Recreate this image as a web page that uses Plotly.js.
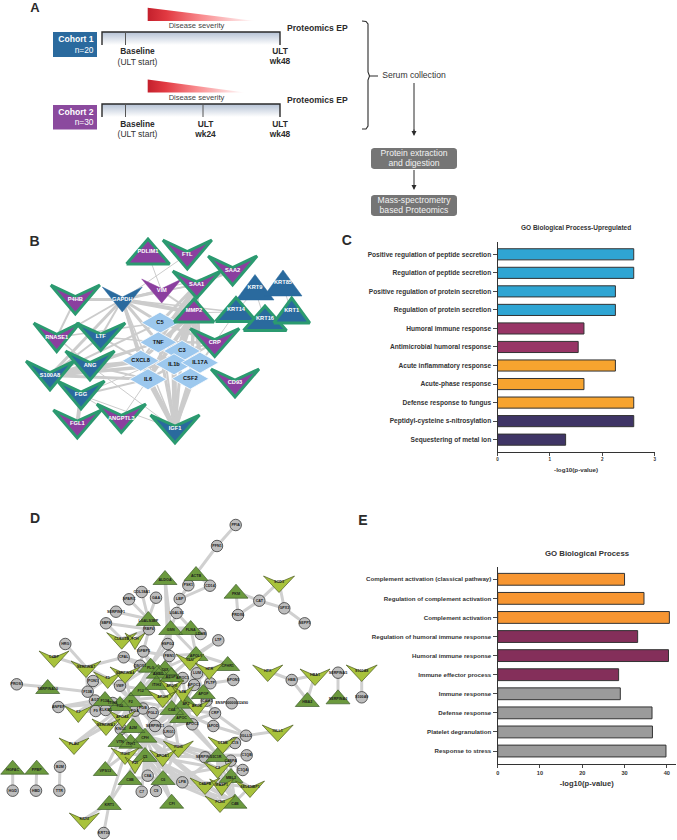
<!DOCTYPE html>
<html><head><meta charset="utf-8">
<script src="https://cdn.plot.ly/plotly-3.0.1.min.js"></script>
<style>html,body{margin:0;padding:0;background:#fff}#chart{width:677px;height:840px}</style>
</head><body><div id="chart"></div>
<script>
// ---------- Panel C data ----------
const cCategories = ["Positive regulation of peptide secretion","Regulation of peptide secretion","Positive regulation of protein secretion","Regulation of protein secretion","Humoral immune response","Antimicrobial humoral response","Acute inflammatory response","Acute-phase response","Defense response to fungus","Peptidyl-cysteine s-nitrosylation","Sequestering of metal ion"];
const cValues = [2.6,2.6,2.25,2.25,1.65,1.54,2.25,1.65,2.6,2.6,1.3];
const cColors = ["#2FA5D3","#2FA5D3","#2FA5D3","#2FA5D3","#983566","#983566","#F7A42F","#F7A42F","#F7A42F","#3F3566","#3F3566"];
// ---------- Panel E data ----------
const eCategories = ["Complement activation (classical pathway)","Regulation of complement activation","Complement activation","Regulation of humoral immune response","Humoral immune response","Immune effector process","Immune response","Defense response","Platelet degranulation","Response to stress"];
const eValues = [30,34.6,40.6,33.1,40.4,28.6,29,36.5,36.6,39.8];
const eColors = ["#F79632","#F79632","#F79632","#842F5A","#842F5A","#842F5A","#9B9B9B","#9B9B9B","#9B9B9B","#9B9B9B"];
// ---------- Panel B network: [label, x, top, tip, width, outlined, fill] ----------
const P="#8B3F9F",B="#2A6A9E";
const bVees = [
["VIM",161.7,279,303,40,0,P],["GAPDH",122.3,287,312,40,0,B],
["FTL",187.3,240,269,49,1,P],["SAA2",232.6,256,285,49,1,P],["SAA1",196.7,271,298,48,1,P],
["P4HB",75.3,285,314,49,1,P],["RNASE1",56.7,323,351.5,46,1,P],["LTF",100.7,323,350.5,49,1,B],
["CRP",214.7,328.5,356.5,49,1,P],["S100A8",50,361,390,48,1,B],["ANG",90,351,380,49,1,B],
["FGG",81,381,409,47,1,B],["CD93",235,369,397,48,1,P],["FGL1",77.3,410,438,48,1,P],
["ANGPTL3",121.3,404,432.5,49,1,P],["IGF1",175,415,443,49,1,B]];
const bTris = [
["PDLIM1",148,239,264,43,1,P],["KRT9",255,274.5,300,38,0,B],["KRT85",283,270,296,38,0,B],
["MMP2",194,299,322,40,1,P],["KRT14",236,297.5,321.5,41,1,B],["KRT16",265,306,330.5,43,1,B],["KRT1",291.7,298,323,36,1,B]];
const bDiamonds = [["C5",160,322.7],["TNF",158.3,342.3],["C3",182,351],["CXCL8",140.7,360.7],["IL1b",174,364.3],["IL17A",200,362.7],["IL6",148,379.3],["CSF2",190.3,378.7]];
const bEdges = [
["IL6","IGF1",5],["IL1b","IGF1",5],["CSF2","IGF1",4.5],["TNF","IGF1",3],["IL17A","IGF1",2.5],["C3","IGF1",3],["CXCL8","IGF1",3],["C5","IGF1",2],
["GAPDH","P4HB",3],["GAPDH","MMP2",4],["GAPDH","VIM",3],["GAPDH","TNF",3],["GAPDH","C5",3],["GAPDH","IL6",3],["GAPDH","RNASE1",2],["GAPDH","S100A8",3],["GAPDH","LTF",2],["GAPDH","SAA1",1.5],["GAPDH","KRT14",1.5],["GAPDH","CXCL8",3],["GAPDH","IGF1",1.5],["GAPDH","SAA2",1],
["MMP2","C5",3.5],["MMP2","TNF",3],["MMP2","IL6",4],["MMP2","CXCL8",3],["MMP2","IL1b",4],["MMP2","C3",3.5],["MMP2","IL17A",3],["MMP2","CSF2",3],
["SAA1","C5",3],["SAA1","TNF",3],["SAA1","IL6",3],["SAA1","CXCL8",2],["SAA1","IL1b",3],["SAA1","C3",3],["SAA1","IL17A",3],["SAA1","MMP2",3],["SAA1","CSF2",3],
["CRP","C5",2.5],["CRP","TNF",2.5],["CRP","IL6",2.5],["CRP","C3",2],["CRP","CSF2",2],["CRP","KRT14",1],
["S100A8","CXCL8",4],["S100A8","IL1b",3.5],["S100A8","IL6",3],["S100A8","TNF",2.5],["S100A8","C5",2],
["ANG","TNF",1.5],["ANG","IL6",2],["ANG","CXCL8",2],["LTF","TNF",1.5],["LTF","CXCL8",2],["RNASE1","C5",1.5],
["FGG","IL6",2],["FGG","FGL1",4],["FGG","ANGPTL3",1],["FGG","IGF1",1],["ANGPTL3","IL6",1],["FGG","C3",1],
["S100A8","ANG",2],["S100A8","LTF",2],["S100A8","FGG",2],["RNASE1","ANG",1.5],["P4HB","RNASE1",2],["ANG","IGF1",1],
["PDLIM1","VIM",1],["FTL","GAPDH",1],["SAA2","SAA1",3],["SAA1","VIM",1.5],["VIM","MMP2",2],["KRT9","KRT14",1],["KRT85","KRT1",1],["KRT14","KRT16",1],["KRT9","KRT16",1],["KRT16","KRT1",1],["MMP2","KRT14",1]];
// ---------- Panel D network ----------
const dCircles = [["HRG",65.3,644],["COL18A1",141.7,592],["SPARC",129,599.3],["GAA",156,597.7],["SERPINF1",116,611.7],["SBP8",106,623.3],["RBP4",149,629.3],["CFAL",123.7,657.3],["IGFBP5",143.3,651.5],["HSPG2",167.7,644],["FBN1",169.3,656],["QSOX1",140,665.7],["LGALS1",176.7,613],["LBP",179.7,599],["PSK1",188.3,585.3],["CD14",210,585.7],["PFN1",217,546],["PPIA",235.7,525],["PRDX6",238,615],["CAT",259.3,600.7],["GPX3",284.3,608.3],["SEPP1",304.7,623.3],["LDHB",200.7,634],["LTF",218.3,640.3],["LUM",197,673.3],["PLTP",210.3,683.3],["APOC3",194,685],["APOC1",182.7,678],["SPON1",233.3,680],["ICAM1",206.7,700.7],["ENSP00000032490",231.7,703.3],["CRP",215,713.3],["APOD",213.3,726],["APOC2",192.3,724.3],["IGLL5",246,735.7],["C1S",235,743],["C1QB",246.7,755.3],["SERPING1",205,757.3],["C4BPA",230.7,760.7],["C1QA",242.7,770],["LPB",182.3,782.3],["F13B",87.7,691.7],["PON1",93,681],["PROS1",16.7,684.3],["VWF",120,685.7],["ANPEP",58.3,707],["AGT",95,700.5],["ITIH4",112.7,703],["F9",95.7,711],["KLKB1",105.7,710],["FGA",135,710.7],["FGB",143,708.5],["FGL2",152.7,713],["SERPINC1",155,726],["KNG1",120.7,729],["LRG1",169,731.7],["C8A",147.7,775.7],["C7",141.7,791.7],["C9",156,791],["KRT10",103.7,833],["HGD",12.7,790.7],["HBD",36,790.7],["B2M",60,766.7],["TTR",59.3,790.7],["HBB",291.7,680],["SERPINA5",338,672.7],["S100A9",361.7,697.3]];
const dTris = [["ALDOA",165,578],["LGALS3BP",148.3,619],["GSN",170.7,628],["FLNA",190.7,628],["ACTB",196,574],["PKM",236,591.7],["APOL1",196,654],["CFHR1",227.7,664],["APOF",203.3,692],["PLG",150.7,665.7],["C6X",165,668],["AHSG",158.3,671.7],["ITIH2",156.7,683],["F12",140.7,689],["F2",130.7,700],["F13A",105,699],["F10",120,704],["AZGP1",171.7,675],["C4A",171.7,708],["A2M",133,726],["CFH",145,735.7],["VTN",120,740],["ITIH1",130.7,741.7],["C5",145,755],["C8B",130,778],["C6",163,778],["VPS13",105.3,769],["KRT1",109.3,803],["SERPINA10",47.7,687],["HGFAC",12.7,767.7],["PPBP",36.7,767.7],["APOC",181.7,716],["AP2",186,701.7],["C1R",217.7,755],["MBL2",231,776],["C4B",235,801.7],["CFI",171.7,801.7],["HBA2",307.3,700],["SERPINA3",338,697.3]];
const dVees = [["C4BP",54,651,30],["SERPINA7",86,661,30],["CLEC3B",121.7,632.7,30],["FTH",135,633,20],["F5",107.7,672,28],["SERPINA4",125,667,30],["APOH",162.7,691,28],["F7",78.3,706,27],["APOA4",122.3,711,26],["SERPINA1",106,719,28],["PLAU",74,738,30],["ITIH3",125,748,28],["F11",135,757,20],["APOA1",162.7,750,26],["KRT2",84.3,813,30],["HPX",267.7,665,30],["HBA1",315,669,30],["S100A8",361.7,665,31],["SOD3",279,576,31],["CLU",190,654,28],["HPR",209.3,663,28],["LPA",182.7,686,22],["APOM",171.7,680,24],["APOE",197,700,26],["CTSB",222.7,737,29],["ITIH5",178.3,741,30],["C2",217.7,762,28],["C4BPB",205,778,30],["MASP1",221.7,779,24],["SELENBP1",250,781,29],["FCN3",220,796,30],["IGLL1",277.7,725,31]];
const dHubs = [
["PPIA",["PFN1"]],["PFN1",["ACTB"]],["ACTB",["PSK1","CD14","LBP"]],["LBP",["LGALS1","PSK1","CD14"]],["LGALS1",["GSN","FLNA"]],
["PKM",["PRDX6","CAT"]],["CAT",["PRDX6","SOD3","GPX3"]],["SOD3",["GPX3"]],["GPX3",["SEPP1"]],
["ALDOA",["GSN","HSPG2"]],["LGALS3BP",["COL18A1","GAA","SPARC","SERPINF1","RBP4"]],["RBP4",["SBP8","CLEC3B","FTH","IGFBP5"]],["SBP8",["CLEC3B"]],
["GSN",["FLNA","HSPG2","FBN1","LDHB","APOL1","PLG"]],["FLNA",["LDHB","APOL1"]],["LTF",["APOL1","CLU"]],
["HRG",["SERPINA7"]],["C4BP",["SERPINA7"]],["SERPINA7",["CFAL","F5","F13B"]],["CFAL",["PLG","QSOX1"]],["IGFBP5",["QSOX1","PLG","AHSG","FBN1"]],["FBN1",["AHSG","C6X","APOL1","AZGP1"]],["HSPG2",["FBN1","PLG"]],
["SERPINA10",["PROS1","F13B"]],["F13B",["PON1","F5","AGT"]],["ANPEP",["AGT","ITIH4"]],["F7",["F9","AGT","F2"]],
["PLAU",["APOA4","SERPINA1","F2"]],["VPS13",["ITIH3","VTN"]],["KRT1",["ITIH3","F11","KRT10","KRT2"]],
["HGFAC",["HGD"]],["PPBP",["HBD"]],["B2M",["TTR"]],
["HPX",["HBB"]],["HBB",["HBA1","HBA2"]],["HBA1",["HBA2"]],["SERPINA5",["SERPINA3"]],["S100A8",["S100A9"]],
["SPON1",["PLTP"]],["ICAM1",["APOE","CRP"]],["IGLL1",["IGLL5"]],["IGLL5",["CRP","APOD","C1S","CTSB"]],
["F2",["F5","SERPINA4","VWF","AGT","ITIH4","F9","KLKB1","FGA","FGB","FGL2","F12","F10","F13A","A2M","KNG1","PLG","AHSG","SERPINC1","CFH","VTN","SERPINA1","APOA4","C5","C4A","APOH","ITIH2","LRG1","AZGP1"]],
["CFH",["A2M","SERPINC1","C4A","APOH","FGL2","FGA","LRG1","C5","C8A","C6","C8B","APOC","APOA1","ITIH1","ITIH3","SERPING1","C4BPB","FCN3","AP2","C1R","C2","APOE","CRP"]],
["C5",["C8A","C7","C9","C8B","C6","APOA1","SERPING1","FCN3","C4BPB","C2","LPB","ITIH5","C4B","CFI","KNG1","ITIH3"]],
["C4A",["ITIH2","APOH","LRG1","SERPINC1","APOC","AP2","APOC2","APOD","CRP","C1R","APOA1","FGL2","ITIH5","AZGP1","APOM","APOC1"]],
["C1R",["C1S","C1QB","C1QA","C4BPA","MBL2","SERPING1","C2","CTSB","LPB","MASP1","C4B","FCN3","ITIH5","APOC2"]],
["C6",["C8B","C9","LPB","C2","C4BPB","FCN3","CFI","MASP1","SELENBP1","C4B","ITIH5"]],
["C4B",["FCN3","MASP1","C4BPB","MBL2","C2","SELENBP1"]],["MBL2",["C4BPA","C1QA","MASP1","SELENBP1"]],
["AP2",["APOC1","APOC3","LPA","APOF","APOE","APOC","APOM","APOC2","APOL1","LUM"]],["APOF",["PLTP","APOC3","LUM","HPR","CLU"]],["APOC3",["APOL1","CLU","HPR","LUM"]],
["APOL1",["CFHR1","CLU","LUM","AZGP1","C6X"]],["CFHR1",["HPR"]],["PLG",["AHSG","C6X","F12","ITIH2","VWF"]],["F12",["KLKB1","VWF","FGA"]]];

// ---------- helpers ----------
const ax = {xaxis:'x',yaxis:'y',hoverinfo:'skip',showlegend:false};
const traces = [];
const FF = '"Liberation Sans",Arial,sans-serif';
function poly(xs,ys,fill,lc,lw,extra){traces.push(Object.assign({},ax,{type:'scatter',mode:'lines',x:xs,y:ys,fill:'toself',fillcolor:fill,line:{color:lc||fill,width:lw||0}},extra||{}));}
function line(xs,ys,c,w){traces.push(Object.assign({},ax,{type:'scatter',mode:'lines',x:xs,y:ys,line:{color:c,width:w}}));}
function txt(xs,ys,labels,size,color,bold,pos){traces.push(Object.assign({},ax,{type:'scatter',mode:'text',x:xs,y:ys,text:labels,textposition:pos||'middle center',cliponaxis:false,textfont:{family:FF,size:size,color:color,weight:bold?700:400}}));}
function vee(cx,top,tip,w){const n=top+(tip-top)*0.4;return {x:[cx-w/2,cx,cx+w/2,cx,cx-w/2],y:[top,n,top,tip,top]};}
function tri(cx,apex,base,w){return {x:[cx-w/2,cx,cx+w/2,cx-w/2],y:[base,apex,base,base]};}
function dia(cx,cy,w,h){return {x:[cx-w/2,cx,cx+w/2,cx,cx-w/2],y:[cy,cy-h/2,cy,cy+h/2,cy]};}
function rrect(x0,y0,x1,y1,r){const X=[],Y=[];[[x1-r,y0+r,-90],[x1-r,y1-r,0],[x0+r,y1-r,90],[x0+r,y0+r,180]].forEach(c=>{for(let a=0;a<=90;a+=30){const t=(c[2]+a)*Math.PI/180;X.push(c[0]+r*Math.cos(t));Y.push(c[1]+r*Math.sin(t));}});X.push(X[0]);Y.push(Y[0]);return {x:X,y:Y};}

// ---------- Panel A ----------
const dark="#2b2b2b",redScale=[[0,'#c4202c'],[0.18,'#e23a42'],[0.5,'#f98b8e'],[1,'#ffffff']],bandScale=[[0,'#ffffff'],[1,'#b4c1d4']];
[[32,7.7,21,255],[104,79.5,92.5,245]].forEach(r=>{
 poly([102,280,280,102,102],[r[0],r[0],r[0]+13,r[0]+13,r[0]],'#ccc',null,0,{fillgradient:{type:'vertical',colorscale:bandScale}});
 poly([147.7,147.7,r[3],147.7],[r[1],r[2],r[2],r[1]],'#f00',null,0,{fillgradient:{type:'horizontal',colorscale:redScale}});
 line([102,102,280,280],[r[0]+13,r[0],r[0],r[0]+13],dark,1.4);
 line([125.5,125.5],[r[0],r[0]+13],'#555',1);
});
line([203,203],[104,117],'#555',1);
poly([53,97,97,53,53],[32,32,57,57,32],'#2A6A9E');
poly([53,97,97,53,53],[105,105,129.5,129.5,105],'#8B4A9E');
txt([93.5,93.5],[40,112.5],['Cohort 1','Cohort 2'],8.6,'#fff',true,'middle left');
txt([93.5,93.5],[50.5,122.5],['n=20','n=30'],8.4,'#fff',false,'middle left');
txt([196.5,196.5],[26,98],['Disease severity','Disease severity'],7.6,'#444',false);
txt([287,287],[28.5,101],['Proteomics EP','Proteomics EP'],8.6,dark,true,'middle right');
txt([137.5,137.5,280,280,205.5,205.5,280,280],[52,124.5,51.5,62,124.5,134.5,124.5,134.5],['Baseline','Baseline','ULT','wk48','ULT','wk24','ULT','wk48'],8.4,dark,true);
txt([137.5,137.5],[62.5,135],['(ULT start)','(ULT start)'],8.5,'#333',false);
line([362,366,368,368,369.5,378,369.5,368,368,366,362],[21,21.5,24,72,76,76,76,80,126,129,129],dark,1.1);
txt([414],[76],['Serum collection'],8.6,'#333',false);
line([414,414],[83,132],dark,1);
line([414,414],[170,188],dark,1);
const box1=rrect(371,148,457,169,3),box2=rrect(371,195,457,216,3);
poly(box1.x,box1.y,'#757575');
poly(box2.x,box2.y,'#757575');
txt([414,414,414,414],[153.7,164,201,211],['Protein extraction','and digestion','Mass-spectrometry','based Proteomics'],8.6,'#f2f2f2',false);
// panel letters
txt([35],[9],['A'],13,dark,true);
txt([34.5,346.7,35,363],[242,241.7,519,521],['B','C','D','E'],14,dark,true);

// ---------- Panel B ----------
const bPos={};
bVees.forEach(n=>bPos[n[0]]=[n[1],(n[2]+n[3])/2]);
bTris.forEach(n=>bPos[n[0]]=[n[1],n[2]+(n[3]-n[2])*0.6]);
bDiamonds.forEach(n=>bPos[n[0]]=[n[1],n[2]]);
bEdges.forEach(e=>line([bPos[e[0]][0],bPos[e[1]][0]],[bPos[e[0]][1],bPos[e[1]][1]],'#cccccc',e[2]));
bDiamonds.forEach(n=>{const p=dia(n[1],n[2],37,21);poly(p.x,p.y,'#9CC8EE','#ffffff',0.8);});
const green='#2B9A70';
bVees.concat(bTris).forEach((n,i)=>{
  const p=i<bVees.length?vee(n[1],n[2],n[3],n[4]):tri(n[1],n[2],n[3],n[4]);
  poly(p.x,p.y,n[6],n[5]?green:n[6],n[5]?3:0.5);
});
txt(bDiamonds.map(n=>n[1]),bDiamonds.map(n=>n[2]),bDiamonds.map(n=>n[0]),5.7,'#111',true);
txt(bVees.map(n=>n[1]),bVees.map(n=>n[2]+(n[3]-n[2])*0.5),bVees.map(n=>n[0]),5.7,'#fff',true);
txt(bTris.map(n=>n[1]),bTris.map(n=>n[2]+(n[3]-n[2])*0.5),bTris.map(n=>n[0]),5.7,'#fff',true);

// ---------- Panel D ----------
const dPos={};
dCircles.forEach(n=>dPos[n[0]]=[n[1],n[2]]);
dTris.forEach(n=>dPos[n[0]]=[n[1],n[2]]);
dVees.forEach(n=>dPos[n[0]]=[n[1],n[2]+6]);
const ex=[],ey=[];
dHubs.forEach(h=>h[1].forEach(t=>{if(dPos[h[0]]&&dPos[t]){ex.push(dPos[h[0]][0],dPos[t][0],null);ey.push(dPos[h[0]][1],dPos[t][1],null);}}));
line(ex,ey,'#d0d0d0',3);
traces.push(Object.assign({},ax,{type:'scatter',mode:'markers',x:dCircles.map(n=>n[1]),y:dCircles.map(n=>n[2]),marker:{symbol:'circle',size:11.5,color:'#BDBDBD',line:{color:'#3a3a3a',width:0.8}}}));
const tx=[],ty=[];dTris.forEach(n=>{const p=tri(n[1],n[2]-7.5,n[2]+6.5,24);tx.push(...p.x,null);ty.push(...p.y,null);});
poly(tx,ty,'#6C9A3E','#3f5f2c',0.7);
const vx=[],vy=[];dVees.forEach(n=>{const p=vee(n[1],n[2],n[2]+16.5,n[3]);vx.push(...p.x,null);vy.push(...p.y,null);});
poly(vx,vy,'#A8C23C','#4a5a20',0.7);
txt(dCircles.map(n=>n[1]),dCircles.map(n=>n[2]),dCircles.map(n=>n[0]),3.7,'#1c1c1c',true);
txt(dTris.map(n=>n[1]),dTris.map(n=>n[2]+2),dTris.map(n=>n[0]),3.7,'#1c1c1c',true);
txt(dVees.map(n=>n[1]),dVees.map(n=>n[2]+6),dVees.map(n=>n[0]),3.7,'#1c1c1c',true);

// ---------- Panels C and E bars ----------
traces.push({type:'bar',orientation:'h',xaxis:'x2',yaxis:'y2',y:cCategories,x:cValues,width:0.6,marker:{color:cColors,line:{color:'#333',width:1}},hoverinfo:'skip',showlegend:false});
traces.push({type:'bar',orientation:'h',xaxis:'x3',yaxis:'y3',y:eCategories,x:eValues,width:0.62,marker:{color:eColors,line:{color:'#333',width:1}},hoverinfo:'skip',showlegend:false});

const H=840,W=677;
const dx=(a,b)=>[a/W,b/W],dy=(t,b)=>[(H-b)/H,(H-t)/H];
const layout={width:W,height:H,margin:{l:0,r:0,t:0,b:0},paper_bgcolor:'#fff',plot_bgcolor:'rgba(0,0,0,0)',showlegend:false,bargap:0.4,
 font:{family:FF,color:'#333'},
 xaxis:{domain:[0,1],range:[0,W],visible:false,fixedrange:true},
 yaxis:{domain:[0,1],range:[H,0],visible:false,fixedrange:true},
 xaxis2:{domain:dx(497.5,654.7),range:[0,3],anchor:'y2',tickvals:[0,1,2,3],ticks:'outside',ticklen:3,tickwidth:0.9,tickcolor:'#333',showline:true,linecolor:'#333',linewidth:1,showgrid:false,zeroline:false,tickfont:{size:4.6,weight:700,color:'#333'},title:{text:'-log10(p-value)',font:{size:6.2,weight:700,color:'#333'},standoff:6}},
 yaxis2:{domain:dy(241.7,451.7),type:'category',categoryorder:'array',categoryarray:cCategories,range:[10.65,-0.68],anchor:'x2',ticks:'outside',ticklen:4,tickwidth:0.9,tickcolor:'#333',showline:true,linecolor:'#333',linewidth:1,showgrid:false,zeroline:false,tickfont:{size:6.6,weight:700,color:'#333'}},
 xaxis3:{domain:dx(497.7,675.7),range:[0,42.1],anchor:'y3',tickvals:[0,10,20,30,40],ticks:'outside',ticklen:3,tickwidth:0.9,tickcolor:'#333',showline:true,linecolor:'#333',linewidth:1.2,showgrid:false,zeroline:false,tickfont:{size:5.6,weight:700,color:'#333'},title:{text:'-log10(p-value)',font:{size:7.6,weight:700,color:'#333'},standoff:5}},
 yaxis3:{domain:dy(566.7,764),type:'category',categoryorder:'array',categoryarray:eCategories,range:[9.68,-0.66],anchor:'x3',ticks:'outside',ticklen:4,tickwidth:0.9,tickcolor:'#333',showline:true,linecolor:'#333',linewidth:1.2,showgrid:false,zeroline:false,tickfont:{size:6.15,weight:700,color:'#333'}},
 annotations:[
  {xref:'x',yref:'y',x:576,y:228,text:'<b>GO Biological Process-Upregulated</b>',showarrow:false,font:{size:6.5,color:'#333'}},
  {xref:'x',yref:'y',x:587,y:553,text:'<b>GO Biological Process</b>',showarrow:false,font:{size:7.8,color:'#333'}},
  {xref:'x',yref:'y',axref:'x',ayref:'y',x:414,y:136,ax:414,ay:128,text:'',showarrow:true,arrowhead:2,arrowsize:1,arrowwidth:1,arrowcolor:dark},
  {xref:'x',yref:'y',axref:'x',ayref:'y',x:414,y:190,ax:414,ay:184,text:'',showarrow:true,arrowhead:2,arrowsize:1,arrowwidth:1,arrowcolor:dark}
 ]};
Plotly.newPlot('chart',traces,layout,{displayModeBar:false,staticPlot:true});
</script></body></html>
